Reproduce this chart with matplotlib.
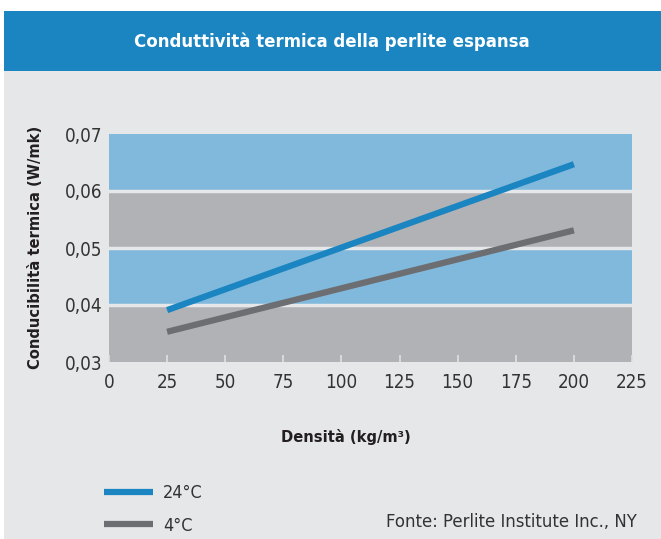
import matplotlib.pyplot as plt
from matplotlib.patches import Rectangle

# data
density = [25, 200]
k_24c = [0.0391, 0.0647]
k_4c = [0.0353, 0.0531]
series_labels = ["24°C", "4°C"]
x_ticks = [0, 25, 50, 75, 100, 125, 150, 175, 200, 225]
y_ticks = [0.03, 0.04, 0.05, 0.06, 0.07]
bands = [(0.03, 0.04, "gray"), (0.04, 0.05, "blue"), (0.05, 0.06, "gray"), (0.06, 0.07, "blue")]

BG = "#e6e7e9"
HEADER = "#1a85c1"
BAND_BLUE = "#80b9dc"
BAND_GRAY = "#b1b2b5"
LINE_BLUE = "#1a85c1"
LINE_GRAY = "#6d6e71"

W, H = 661, 539
fig = plt.figure(figsize=(W / 100, H / 100), dpi=100)
fig.patch.set_facecolor("white")

def fx(px):
    return px / W

def fy(py):
    return 1 - py / H

# background and header band
fig.patches.append(Rectangle((fx(4), 0), 1 - fx(4), fy(71), transform=fig.transFigure,
                             facecolor=BG, edgecolor="none", zorder=-2))
fig.patches.append(Rectangle((fx(4), fy(71)), 1 - fx(4), fy(11) - fy(71), transform=fig.transFigure,
                             facecolor=HEADER, edgecolor="none", zorder=-2))

cond_bold = dict(family="DejaVu Sans", stretch="condensed", weight="bold")
light = dict(family="DejaVu Sans", stretch="condensed")

fig.text(fx(332), fy(42), "Conduttività termica della perlite espansa", color="white",
         ha="center", va="center", fontsize=13.3, **cond_bold)

ax = fig.add_axes([fx(109), fy(362), fx(632) - fx(109), fy(134) - fy(362)])
ax.set_zorder(2)
ax.set_facecolor(BG)
for lo, hi, c in bands:
    ax.axhspan(lo, hi, color=BAND_BLUE if c == "blue" else BAND_GRAY, lw=0, zorder=0)
for b in [0.04, 0.05, 0.06]:
    ax.axhline(b, color=BG, lw=2.5, zorder=1)

l1, = ax.plot(density, k_24c, color=LINE_BLUE, lw=4.5, solid_capstyle="butt", zorder=3)
l2, = ax.plot(density, k_4c, color=LINE_GRAY, lw=4.5, solid_capstyle="butt", zorder=3)

ax.set_xlim(0, 225)
ax.set_ylim(0.03, 0.07)
ax.set_xticks(x_ticks)
ax.set_yticks(y_ticks)
ax.set_xticklabels([str(t) for t in x_ticks], fontsize=13.5, color="#333333", **light)
ax.set_yticklabels([f"{t:.2f}".replace(".", ",") for t in y_ticks], fontsize=13.5,
                   color="#333333", **light)
ax.tick_params(axis="x", direction="in", length=5, width=1.2, color="#e0e0e0", pad=8)
ax.tick_params(axis="y", length=0, pad=5)
for s in ax.spines.values():
    s.set_visible(False)

fig.text(fx(36), fy(247), "Conducibilità termica (W/mk)", rotation=90, ha="center", va="center",
         fontsize=11.8, color="#231f20", **cond_bold)
fig.text(fx(346), fy(437), "Densità (kg/m³)", ha="center", va="center",
         fontsize=11.8, color="#231f20", **cond_bold)

leg = fig.legend([l1, l2], series_labels, loc="upper left",
                 bbox_to_anchor=(fx(88), fy(468)), frameon=False,
                 prop=dict(family="DejaVu Sans", stretch="condensed", size=13),
                 handlelength=2.7, handletextpad=0.55, labelspacing=0.8)
for t in leg.get_texts():
    t.set_color("#333333")

fig.text(fx(637), fy(522), "Fonte: Perlite Institute Inc., NY", ha="right", va="center",
         fontsize=13.2, color="#333333", **light)

fig.savefig("out.png", dpi=100)
